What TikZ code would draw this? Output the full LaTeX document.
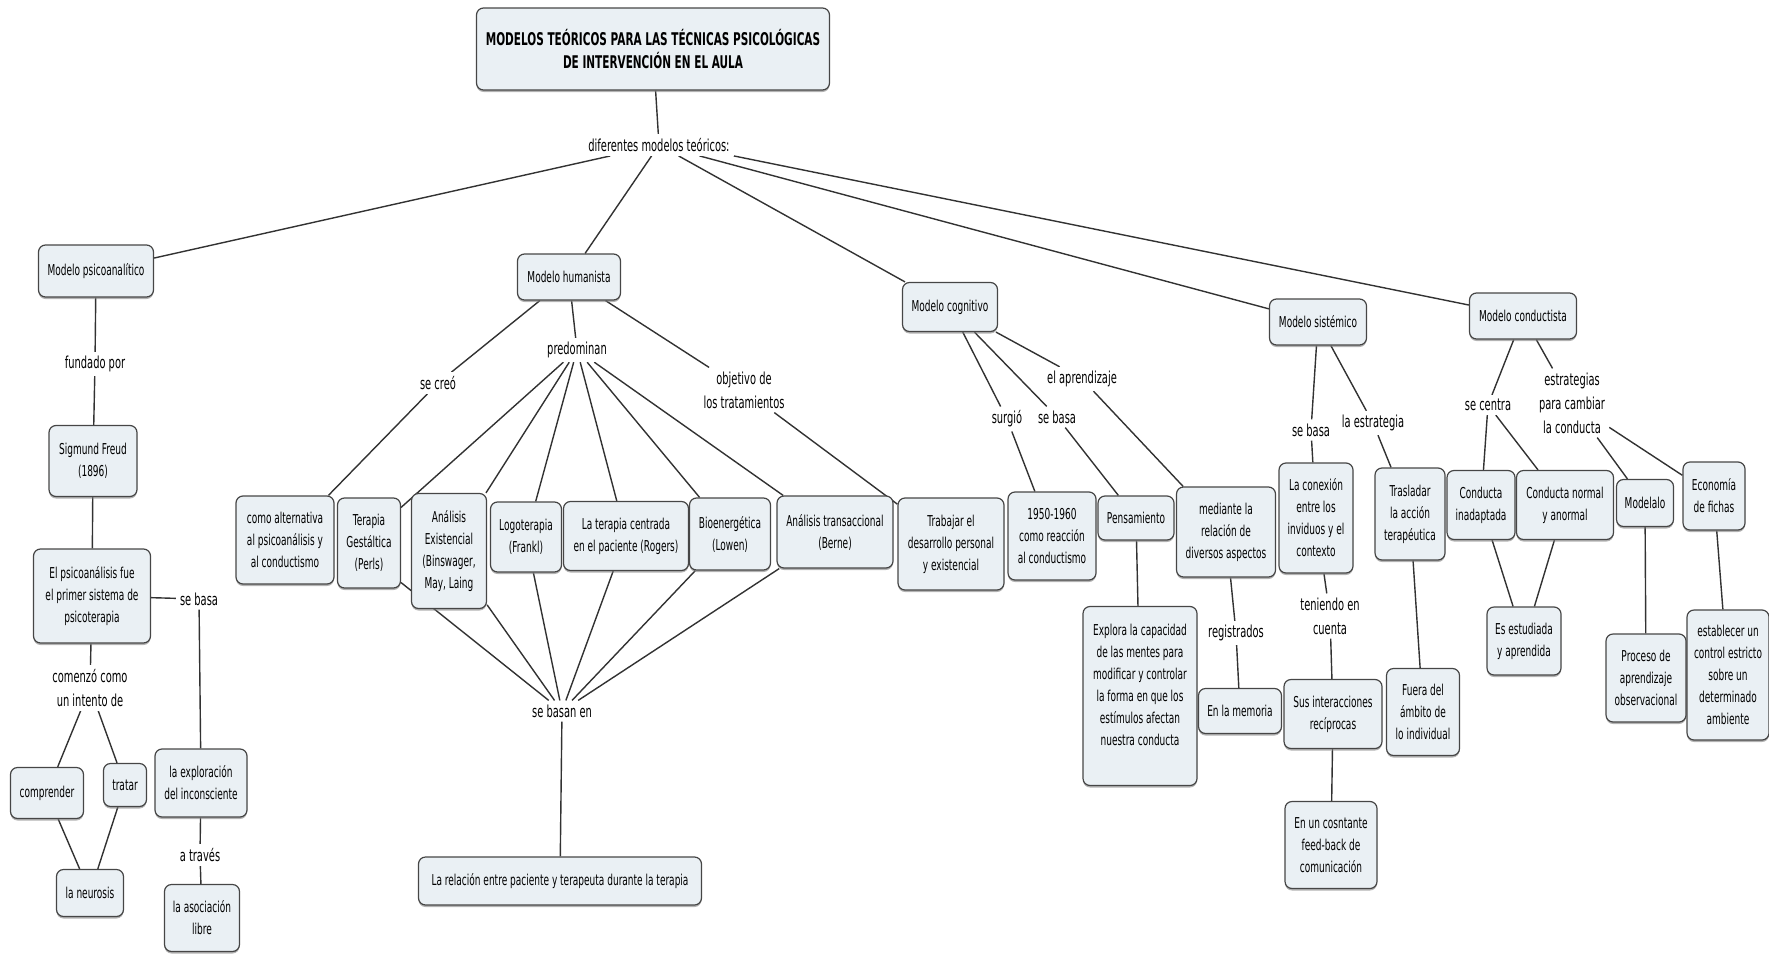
\documentclass[tikz,border=0pt]{standalone}
\usepackage{fontspec}
\setmainfont{DejaVu Sans}[FakeStretch=0.6]
\usetikzlibrary{backgrounds,shadows,calc}

\definecolor{conceptfill}{RGB}{234,240,244}
\definecolor{conceptline}{RGB}{70,70,70}
\definecolor{linkline}{RGB}{50,50,50}

\tikzset{
  concept/.style={draw=conceptline, line width=1.2pt, fill=conceptfill,
    rounded corners=7pt, align=center, inner sep=2pt,
    font=\fontsize{15}{22}\selectfont,
    drop shadow={shadow xshift=0pt, shadow yshift=-2pt, fill=black!50, opacity=.6}},
  titlebox/.style={concept, font=\fontsize{17.5}{23}\selectfont\bfseries},
  linkword/.style={fill=white, align=center, inner sep=4pt,
    font=\fontsize{16.5}{24}\selectfont},
  link/.style={draw=linkline, line width=1.4pt},
}

\begin{document}
\begin{tikzpicture}[x=1pt, y=-1pt]
\useasboundingbox (0,0) rectangle (1769,953);

% title
\node[titlebox, minimum width=353pt, minimum height=82pt] (title) at (653,49)
  {MODELOS TEÓRICOS PARA LAS TÉCNICAS PSICOLÓGICAS\\DE INTERVENCIÓN EN EL AULA};
\node[linkword] (modelos) at (659,145) {diferentes modelos teóricos:};

% modelo psicoanalitico
\node[concept, minimum width=115pt, minimum height=52pt] (psico) at (96,271) {Modelo psicoanalítico};
\node[linkword] (fundado) at (95,364) {fundado por};
\node[concept, minimum width=88pt, minimum height=71pt] (freud) at (93,461) {Sigmund Freud\\(1896)};
\node[concept, minimum width=117pt, minimum height=94pt] (sistema) at (92,596)
  {El psicoanálisis fue\\el primer sistema de\\psicoterapia};
\node[linkword] (sebasaP) at (199,599) {se basa};
\node[linkword] (comenzo) at (90,688) {comenzó como\\un intento de};
\node[concept, minimum width=73pt, minimum height=51pt] (comprender) at (47,793) {comprender};
\node[concept, minimum width=43pt, minimum height=43pt] (tratar) at (125,785) {tratar};
\node[concept, minimum width=67pt, minimum height=47pt] (neurosis) at (90,893) {la neurosis};
\node[concept, minimum width=92pt, minimum height=68pt] (explor) at (201,783) {la exploración\\del inconsciente};
\node[linkword] (atraves) at (200,855) {a través};
\node[concept, minimum width=75pt, minimum height=67pt] (asoc) at (202,918) {la asociación\\libre};

% modelo humanista
\node[concept, minimum width=103pt, minimum height=46pt] (human) at (569,277) {Modelo humanista};
\node[linkword] (secreo) at (438,383) {se creó};
\node[linkword] (predom) at (577,350) {predominan};
\node[linkword] (objetivo) at (744,390) {objetivo de\\los tratamientos};
\node[concept, minimum width=98pt, minimum height=88pt] (altern) at (285,540)
  {como alternativa\\al psicoanálisis y\\al conductismo};
\node[concept, minimum width=63pt, minimum height=90pt] (gest) at (369,543) {Terapia\\Gestáltica\\(Perls)};
\node[concept, minimum width=75pt, minimum height=115pt] (exist) at (449,551)
  {Análisis\\Existencial\\(Binswager,\\May, Laing};
\node[concept, minimum width=71pt, minimum height=70pt] (logo) at (526,537) {Logoterapia\\(Frankl)};
\node[concept, minimum width=125pt, minimum height=69pt] (rogers) at (626,536)
  {La terapia centrada\\en el paciente (Rogers)};
\node[concept, minimum width=81pt, minimum height=72pt] (bioen) at (730,534) {Bioenergética\\(Lowen)};
\node[concept, minimum width=116pt, minimum height=72pt] (trans) at (835,532) {Análisis transaccional\\(Berne)};
\node[concept, minimum width=106pt, minimum height=92pt] (trabajar) at (951,544)
  {Trabajar el\\desarrollo personal\\y existencial};
\node[linkword] (basanen) at (562,711) {se basan en};
\node[concept, minimum width=283pt, minimum height=48pt] (relacion) at (560,881)
  {La relación entre paciente y terapeuta durante la terapia};

% modelo cognitivo
\node[concept, minimum width=95pt, minimum height=49pt] (cogn) at (950,307) {Modelo cognitivo};
\node[linkword] (surgio) at (1007,419) {surgió};
\node[linkword] (sebasaC) at (1057,417) {se basa};
\node[linkword] (aprend) at (1082,379) {el aprendizaje};
\node[concept, minimum width=88pt, minimum height=88pt] (decada) at (1052,536)
  {1950-1960\\como reacción\\al conductismo};
\node[concept, minimum width=76pt, minimum height=44pt] (pensam) at (1136,518) {Pensamiento};
\node[concept, minimum width=99pt, minimum height=90pt] (mediante) at (1226,532)
  {mediante la\\relación de\\diversos aspectos};
\node[concept, minimum width=114pt, minimum height=179pt] (explora) at (1140,696)
  {Explora la capacidad\\de las mentes para\\modificar y controlar\\la forma en que los\\estímulos afectan\\nuestra conducta\\\mbox{}};
\node[linkword] (registr) at (1236,633) {registrados};
\node[concept, minimum width=83pt, minimum height=45pt] (memoria) at (1240,711) {En la memoria};

% modelo sistemico
\node[concept, minimum width=97pt, minimum height=46pt] (sistem) at (1318,322) {Modelo sistémico};
\node[linkword] (sebasaS) at (1311,430) {se basa};
\node[linkword] (estrat) at (1373,423) {la estrategia};
\node[concept, minimum width=74pt, minimum height=110pt] (conexion) at (1316,518)
  {La conexión\\entre los\\inviduos y el\\contexto};
\node[concept, minimum width=70pt, minimum height=92pt] (traslad) at (1410,514) {Trasladar\\la acción\\terapéutica};
\node[linkword] (teniendo) at (1330,616) {teniendo en\\cuenta};
\node[concept, minimum width=98pt, minimum height=69pt] (interac) at (1333,714) {Sus interacciones\\recíprocas};
\node[concept, minimum width=73pt, minimum height=87pt] (fuera) at (1423,712) {Fuera del\\ámbito de\\lo individual};
\node[concept, minimum width=92pt, minimum height=87pt] (feedback) at (1331,845)
  {En un cosntante\\feed-back de\\comunicación};

% modelo conductista
\node[concept, minimum width=107pt, minimum height=46pt] (conduct) at (1523,316) {Modelo conductista};
\node[linkword] (secentra) at (1488,405) {se centra};
\node[linkword] (cambiar) at (1572,403) {estrategias\\para cambiar\\la conducta};
\node[concept, minimum width=68pt, minimum height=69pt] (inadapt) at (1481,505) {Conducta\\inadaptada};
\node[concept, minimum width=97pt, minimum height=69pt] (normal) at (1565,505) {Conducta normal\\y anormal};
\node[concept, minimum width=74pt, minimum height=68pt] (estudiada) at (1524,641) {Es estudiada\\y aprendida};
\node[concept, minimum width=57pt, minimum height=47pt] (modelalo) at (1645,503) {Modelalo};
\node[concept, minimum width=62pt, minimum height=68pt] (fichas) at (1714,496) {Economía\\de fichas};
\node[concept, minimum width=80pt, minimum height=88pt] (proceso) at (1646,678)
  {Proceso de\\aprendizaje\\observacional};
\node[concept, minimum width=82pt, minimum height=130pt] (control) at (1728,675)
  {establecer un\\control estricto\\sobre un\\determinado\\ambiente};

% connectors
\begin{scope}[on background layer]
\draw[link] (title) -- (modelos);
\draw[link] (modelos) -- (psico) (modelos) -- (human) (modelos) -- (cogn)
  (modelos) -- (sistem) (modelos.south east) -- (conduct);

\draw[link] (psico) -- (fundado) (fundado) -- (freud) (freud) -- (sistema);
\draw[link] (sistema) -- (sebasaP) (sebasaP) -- (explor)
  (explor) -- (atraves) (atraves) -- (asoc);
\draw[link] (sistema) -- (comenzo) (comenzo) -- (comprender) (comenzo) -- (tratar)
  (comprender) -- (neurosis) (tratar) -- (neurosis);

\draw[link] (human) -- (secreo) (secreo) -- (altern);
\draw[link] (human) -- (predom) (human) -- (objetivo) (objetivo) -- (trabajar);
\draw[link] (predom) -- ($(gest.north east)+(0,10)$);
\foreach \n in {exist,logo,rogers,bioen,trans}
  \draw[link] (predom) -- (\n) (\n) -- (basanen);
\draw[link] ($(gest.south east)+(0,-6)$) -- (basanen);
\draw[link] (basanen) -- (relacion);

\draw[link] (cogn) -- (surgio) (surgio) -- (decada);
\draw[link] (cogn) -- (sebasaC) (sebasaC) -- (pensam) (pensam) -- (explora);
\draw[link] (cogn) -- (aprend) (aprend) -- (mediante);
\draw[link] (mediante) -- (registr) (registr) -- (memoria);

\draw[link] (sistem) -- (sebasaS) (sebasaS) -- (conexion);
\draw[link] (sistem) -- (estrat) (estrat) -- (traslad) (traslad) -- (fuera);
\draw[link] (conexion) -- (teniendo) (teniendo) -- (interac) (interac) -- (feedback);

\draw[link] (conduct) -- (secentra) (secentra) -- (inadapt) (secentra) -- (normal);
\draw[link] (inadapt) -- (estudiada) (normal) -- (estudiada);
\draw[link] (conduct) -- (cambiar) (cambiar) -- (modelalo) (cambiar) -- (fichas);
\draw[link] (modelalo) -- (proceso) (fichas) -- (control);
\end{scope}
\end{tikzpicture}
\end{document}
